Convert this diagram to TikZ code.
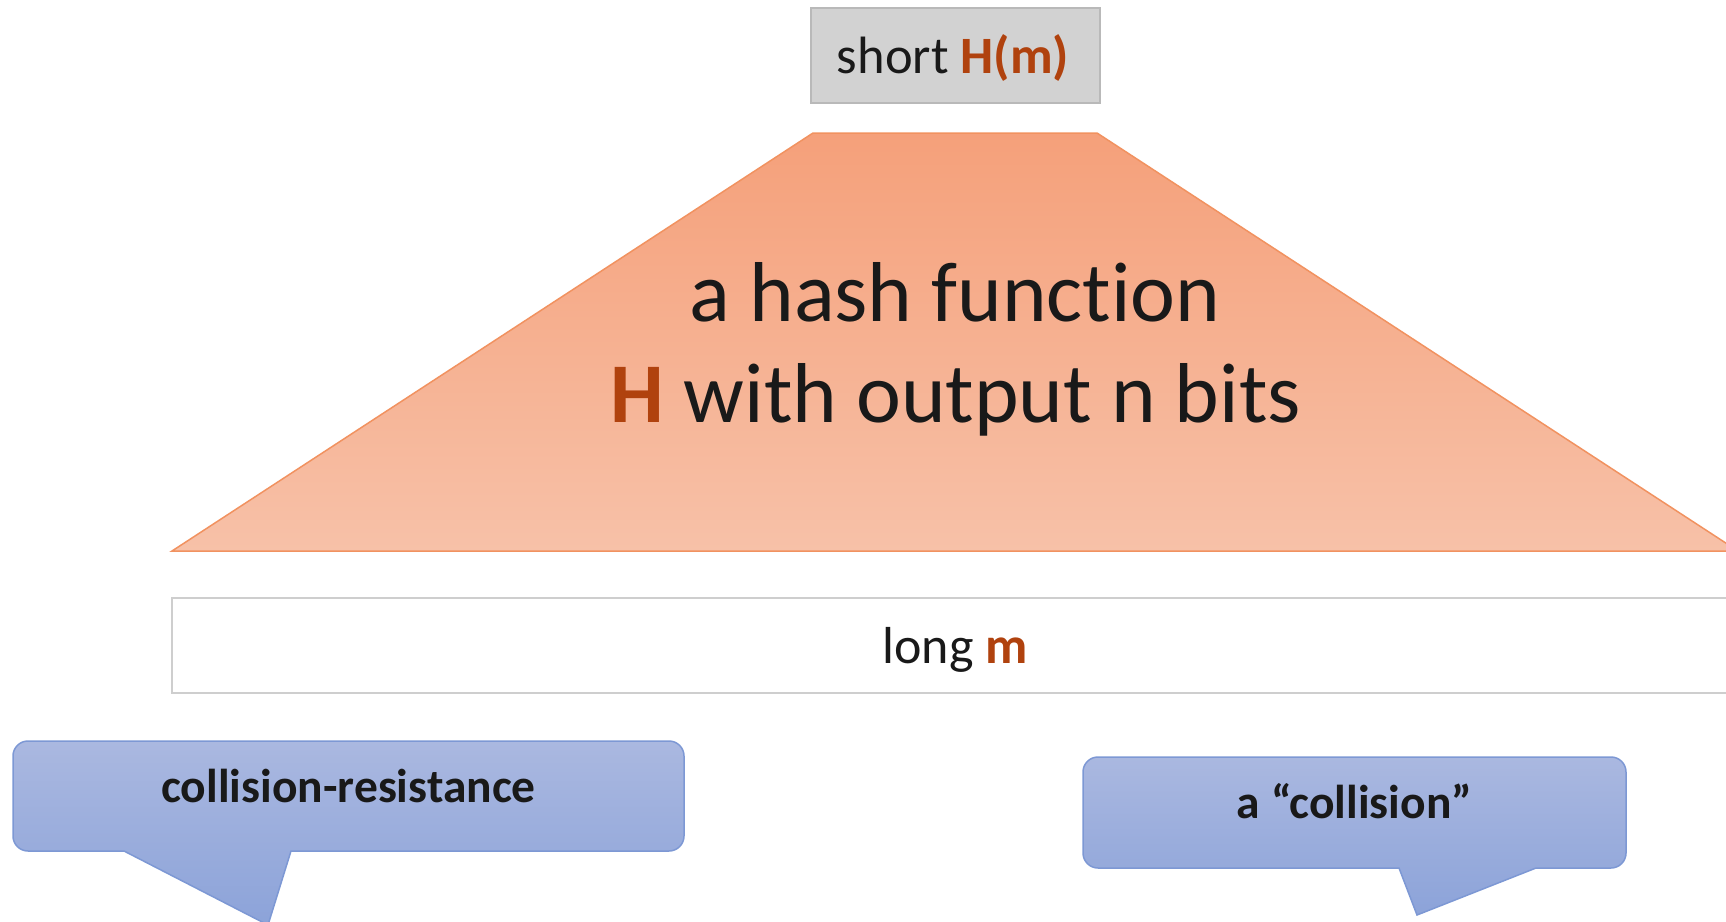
\documentclass[tikz,border=0pt]{standalone}
\usepackage{fontspec}
\setmainfont[Ligatures={NoCommon}]{Carlito}
\definecolor{hashTop}{RGB}{245,160,122}
\definecolor{hashBot}{RGB}{247,193,168}
\definecolor{hashLine}{RGB}{241,146,96}
\definecolor{hbrown}{RGB}{176,66,14}
\definecolor{grayFill}{RGB}{210,210,210}
\definecolor{grayLine}{RGB}{185,185,185}
\definecolor{longLine}{RGB}{206,206,206}
\definecolor{blueTop}{RGB}{170,184,224}
\definecolor{blueBot}{RGB}{140,163,217}
\definecolor{blueLine}{RGB}{125,152,212}
\tikzset{
  hashshape/.style={top color=hashTop, bottom color=hashBot, draw=hashLine, line width=1.5pt},
  callout/.style={top color=blueTop, bottom color=blueBot, draw=blueLine, line width=1.5pt},
  txt/.style={inner sep=0pt, anchor=base, text=black!90},
}
\begin{document}
\begin{tikzpicture}[x=1pt,y=-1pt]
\useasboundingbox (0,0) rectangle (1726,921);
\clip (0,0) rectangle (1726,921);
% top gray box
\draw[fill=grayFill, draw=grayLine, line width=2pt] (811,8) rectangle (1100,103);
\node[txt, font=\fontsize{52.5}{60}\selectfont] (short) at (953,73) {short \textcolor{hbrown}{\bfseries H(m)}};
% hash trapezoid
\shade[hashshape] (813,133) -- (1097,133) -- (1738,551) -- (172,551) -- cycle;
\node[txt, font=\fontsize{85}{100}\selectfont] (l1) at (955,321) {a hash function};
\node[txt, font=\fontsize{85}{100}\selectfont] (l2) at (956,422) {\textcolor{hbrown}{\bfseries H} with output n bits};
% long m box
\draw[fill=white, draw=longLine, line width=2.5pt] (172,598) rectangle (1740,693);
\node[txt, font=\fontsize{52}{60}\selectfont] (long) at (955,663) {long \textcolor{hbrown}{\bfseries m}};
% callout 1
\shade[callout] (28,741) -- (669,741) arc[start angle=270,end angle=360,radius=15]
  -- (684,836) arc[start angle=0,end angle=90,radius=15]
  -- (291,851) -- (268,925) -- (124,851)
  -- (28,851) arc[start angle=90,end angle=180,radius=15]
  -- (13,756) arc[start angle=180,end angle=270,radius=15] -- cycle;
\node[txt, font=\fontsize{47.5}{56}\selectfont\bfseries] (cr) at (348.5,802) {collision-resistance};
% callout 2
\shade[callout] (1098,757) -- (1611,757) arc[start angle=270,end angle=360,radius=15]
  -- (1626,853) arc[start angle=0,end angle=90,radius=15]
  -- (1536,868) -- (1417,915) -- (1399,868)
  -- (1098,868) arc[start angle=90,end angle=180,radius=15]
  -- (1083,772) arc[start angle=180,end angle=270,radius=15] -- cycle;
\node[txt, font=\fontsize{47.5}{56}\selectfont\bfseries] (col) at (1354.5,818) {a “collision”};
\end{tikzpicture}
\end{document}
